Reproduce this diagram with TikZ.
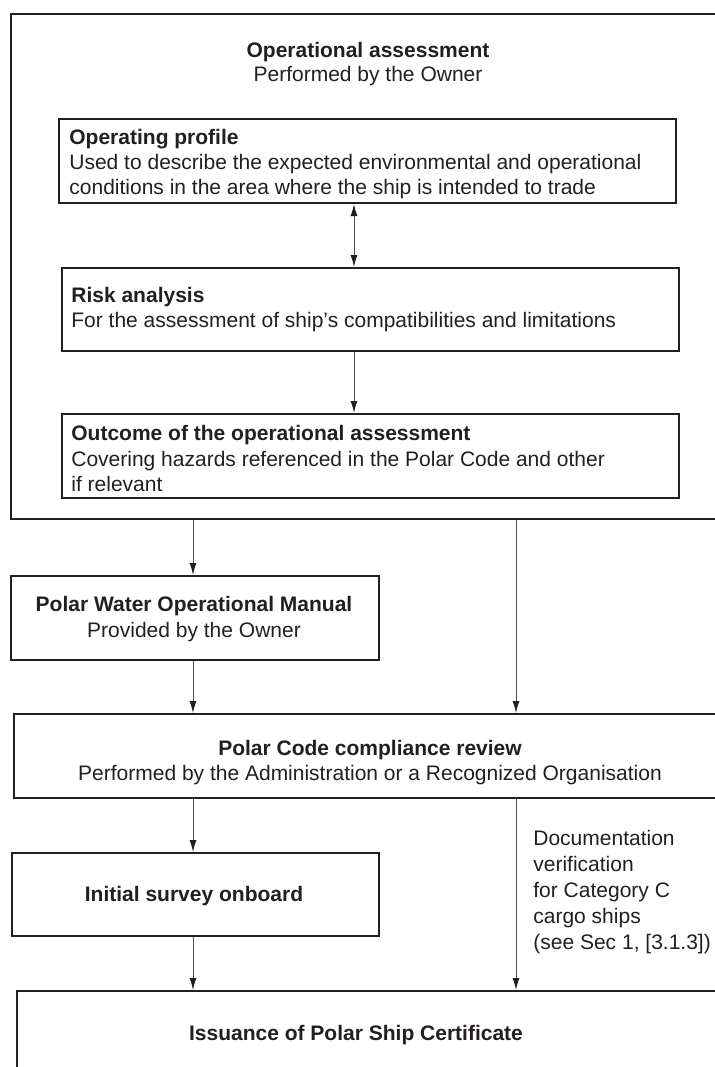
\documentclass[tikz,border=0pt]{standalone}
\usepackage{fontspec}
\setmainfont{Liberation Sans}
\usetikzlibrary{arrows.meta}
\definecolor{ink}{HTML}{231F20}
\definecolor{wire}{HTML}{4D4D4F}
\begin{document}
\begin{tikzpicture}[x=0.5pt,y=-0.5pt,
  frame/.style={draw=ink,line width=1pt,inner sep=0pt,anchor=north west},
  txt/.style={text=ink,inner sep=0pt,font=\fontsize{10.5}{12.5}\selectfont},
  bold/.style={text=ink,inner sep=0pt,font=\fontsize{10.5}{12.5}\selectfont\bfseries},
  tip/.tip={Latex[length=6pt,width=3.5pt,color=ink]},
  flow/.style={draw=wire,line width=0.5pt,-tip},
  both/.style={draw=wire,line width=0.5pt,tip-tip},
]
\useasboundingbox (0,0) rectangle (715,1067);
\clip (0,0) rectangle (715,1067);
\fill[white] (0,0) rectangle (715,1067);

% column positions of the connectors
\coordinate (cA) at (354,0);
\coordinate (cL) at (193,0);
\coordinate (cR) at (516,0);

% boxes
\node[frame,minimum width=357pt,minimum height=252.5pt] (outer) at (10,13) {};
\node[frame,minimum width=308.5pt,minimum height=42pt] (profile) at (58,118) {};
\node[frame,minimum width=308.5pt,minimum height=41.5pt] (risk) at (61,267) {};
\node[frame,minimum width=308.5pt,minimum height=42pt] (outcome) at (61,413) {};
\node[frame,minimum width=184pt,minimum height=42pt] (pwom) at (10,575) {};
\node[frame,minimum width=355.5pt,minimum height=42pt] (review) at (13,713) {};
\node[frame,minimum width=183.5pt,minimum height=41.5pt] (survey) at (11,852) {};
\node[frame,minimum width=354pt,minimum height=60pt] (issue) at (16,990) {};

% texts
\node[bold,anchor=base] (oaT) at (368,57) {Operational assessment};
\node[txt,anchor=base] (oaS) at (368,81) {Performed by the Owner};

\node[bold,anchor=base west] (opT) at (69,144) {Operating profile};
\node[txt,anchor=base west] (opA) at (69,169) {Used to describe the expected environmental and operational};
\node[txt,anchor=base west] (opB) at (69,194) {conditions in the area where the ship is intended to trade};

\node[bold,anchor=base west] (raT) at (71,302) {Risk analysis};
\node[txt,anchor=base west] (raA) at (71,327) {For the assessment of ship’s compatibilities and limitations};

\node[bold,anchor=base west] (ocT) at (71,440) {Outcome of the operational assessment};
\node[txt,anchor=base west] (ocA) at (71,466) {Covering hazards referenced in the Polar Code and other};
\node[txt,anchor=base west] (ocB) at (71,491) {if relevant};

\node[bold,anchor=base] (pwT) at (194,611) {Polar Water Operational Manual};
\node[txt,anchor=base] (pwA) at (194,637) {Provided by the Owner};

\node[bold,anchor=base] (rvT) at (370,755) {Polar Code compliance review};
\node[txt,anchor=base] (rvA) at (370,780) {Performed by the Administration or a Recognized Organisation};

\node[bold,anchor=base] (svT) at (194,901) {Initial survey onboard};

\node[txt,anchor=base west] (dvA) at (533,845) {Documentation};
\node[txt,anchor=base west] (dvB) at (533,871) {verification};
\node[txt,anchor=base west] (dvC) at (533,897) {for Category C};
\node[txt,anchor=base west] (dvD) at (533,923) {cargo ships};
\node[txt,anchor=base west] (dvE) at (533,949) {(see Sec 1, [3.1.3])};

\node[bold,anchor=base] (isT) at (356,1040) {Issuance of Polar Ship Certificate};

% connectors
\draw[both] (profile.south -| cA) -- (risk.north -| cA);
\draw[flow] (risk.south -| cA) -- (outcome.north -| cA);
\draw[flow] (outer.south -| cL) -- (pwom.north -| cL);
\draw[flow] (outer.south -| cR) -- (review.north -| cR);
\draw[flow] (pwom.south -| cL) -- (review.north -| cL);
\draw[flow] (review.south -| cL) -- (survey.north -| cL);
\draw[flow] (review.south -| cR) -- (issue.north -| cR);
\draw[flow] (survey.south -| cL) -- (issue.north -| cL);
\end{tikzpicture}
\end{document}
